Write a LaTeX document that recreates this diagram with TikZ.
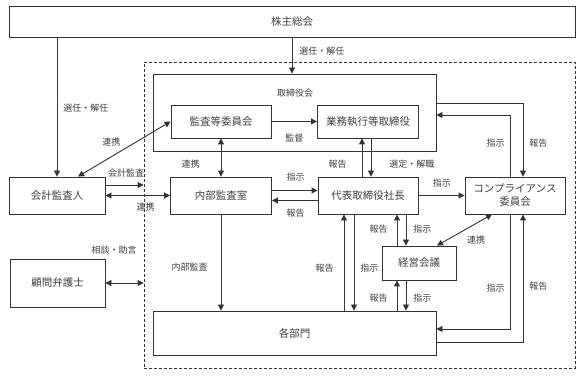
\documentclass[tikz,border=0pt]{standalone}
\usepackage{fontspec}
\setmainfont{Noto Sans CJK JP}
\usepackage{tikz}
\usetikzlibrary{arrows.meta,positioning,calc}

\begin{document}
\begin{tikzpicture}[x=1pt,y=-1pt,black!80,line width=0.9pt,>={Triangle[length=6pt,width=6pt]},
  bx/.style={draw,inner sep=0pt,font=\fontsize{10.5}{13}\selectfont,text=black!75},
  lb/.style={font=\fontsize{9}{10}\selectfont,inner sep=1pt,text=black!75}]
  \useasboundingbox (0,0) rectangle (587,379);
  \node[draw,dash pattern=on 3pt off 2pt,minimum width=431,minimum height=306] (grp) at (359.5,215) {};
  \node[bx,minimum width=566,minimum height=31] (kabu) at (292,21.5) {株主総会};
  \node[bx,minimum width=283,minimum height=77] (tori) at (294.5,112.5) {};
  \node[lb] (toriT) at (295,93) {取締役会};
  \node[bx,minimum width=100,minimum height=33] (kansa) at (221,121.5) {監査等委員会};
  \node[bx,minimum width=101,minimum height=33] (gyomu) at (368,121.5) {業務執行等取締役};
  \node[bx,minimum width=96,minimum height=37] (kaikei) at (57,195.5) {会計監査人};
  \node[bx,minimum width=101,minimum height=37] (naibu) at (221,195.5) {内部監査室};
  \node[bx,minimum width=100,minimum height=37] (shacho) at (368,195.5) {代表取締役社長};
  \node[bx,minimum width=100,minimum height=37,align=center] (comp) at (515,195.5) {コンプライアンス\\委員会};
  \node[bx,minimum width=74,minimum height=34] (keiei) at (419,263) {経営会議};
  \node[bx,minimum width=95,minimum height=48] (komon) at (57.5,283) {顧問弁護士};
  \node[bx,minimum width=283,minimum height=44] (kakubu) at (294.5,333) {各部門};
  % 株主総会から
  \draw[->] (kabu.south -| kaikei.north) -- node[lb,pos=0.51,right=5pt]{選任・解任} (kaikei.north);
  \draw[->] (kabu.south) -- node[lb,pos=0.38,right=6pt]{選任・解任} (kabu.south |- tori.north);
  % 会計監査人・顧問弁護士
  \coordinate (kaA) at ([yshift=10.5]kaikei.east);
  \draw[<->] ([xshift=21]kaikei.north) -- node[lb,xshift=-13,yshift=7]{連携} (kansa.west);
  \draw[->] (kaA) -- node[lb,pos=0.54,above=6pt]{会計監査} (kaA -| grp.west);
  \draw[<->] (kaikei) -- node[lb,pos=0.62,below=6pt]{連携} (naibu);
  \draw[<->] (komon.east) -- node[lb,pos=0.23,above=27pt]{相談・助言} (komon.east -| grp.west);
  % 取締役会の中
  \draw[<->] (kansa) -- node[lb,pos=0.67,left=20pt]{連携} (naibu);
  \draw[->] (kansa) -- node[lb,below=11pt]{監督} (gyomu);
  \draw[->] ([xshift=-6]shacho.north) -- node[lb,pos=0.33,left=14pt]{報告} ([xshift=-6]gyomu.south);
  \draw[->] ([xshift=3]gyomu.south) -- node[lb,pos=0.67,right=17pt]{選定・解職} ([xshift=3]shacho.north);
  % 内部監査室と社長
  \draw[->] ([yshift=5]naibu.east) -- node[lb,pos=0.52,above=8pt]{指示} ([yshift=5]shacho.west);
  \draw[->] ([yshift=-5]shacho.west) -- node[lb,pos=0.48,below=7pt]{報告} ([yshift=-5]naibu.east);
  \draw[->] (naibu.south) -- node[lb,pos=0.55,left=12pt]{内部監査} (naibu.south |- kakubu.north);
  % コンプライアンス委員会
  \draw[->] (shacho) -- node[lb,pos=0.51,above=7pt]{指示} (comp);
  \draw[->] ([xshift=-5]comp.north) |- node[lb,pos=0.27,left=4pt]{指示} ([yshift=-2.5]tori.east);
  \draw[->] ([yshift=9.5]tori.east) -| node[lb,pos=0.77,right=5pt]{報告} ([xshift=8]comp.north);
  \draw[<->] ([xshift=18]keiei.north) -- node[lb,xshift=11.5,yshift=-10]{連携} ([xshift=-23]comp.south);
  \draw[->] ([xshift=-5]comp.south) |- node[lb,pos=0.32,left=4pt]{指示} ([yshift=4]kakubu.east);
  \draw[->] ([yshift=-9]kakubu.east) -| node[lb,pos=0.72,right=5pt]{報告} ([xshift=8]comp.south);
  % 社長・経営会議・各部門
  \draw[->] ([xshift=49.5]kakubu.north) -- node[lb,pos=0.44,left=9pt]{報告} ([xshift=-24]shacho.south);
  \draw[->] ([xshift=-14]shacho.south) -- node[lb,pos=0.56,right=5pt]{指示} ([xshift=59.5]kakubu.north);
  \draw[->] ([xshift=-22]keiei.north) -- node[lb,pos=0.53,left=8pt]{報告} ([xshift=29]shacho.south);
  \draw[->] ([xshift=38]shacho.south) -- node[lb,pos=0.47,right=6pt]{指示} ([xshift=-13]keiei.north);
  \draw[->] ([xshift=102.5]kakubu.north) -- node[lb,pos=0.42,left=8pt]{報告} ([xshift=-22]keiei.south);
  \draw[->] ([xshift=-13]keiei.south) -- node[lb,pos=0.58,right=6pt]{指示} ([xshift=111.5]kakubu.north);
\end{tikzpicture}
\end{document}
